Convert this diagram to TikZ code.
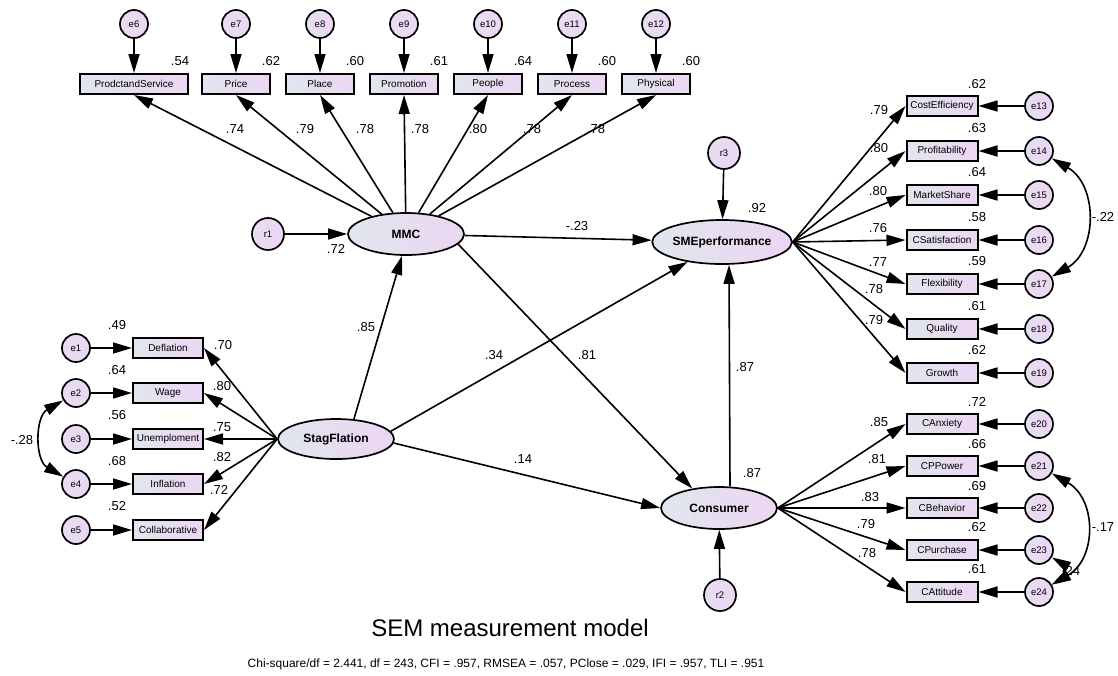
\documentclass[tikz,border=0pt]{standalone}
\usepackage{fontspec}
\setmainfont{Liberation Sans}
\usetikzlibrary{shapes.geometric,arrows.meta}
\definecolor{gL}{RGB}{224,230,237}
\definecolor{gR}{RGB}{236,214,243}
\definecolor{cL}{RGB}{230,222,240}
\begin{document}
\begin{tikzpicture}[x=1pt,y=-1pt,
  obs/.style={draw, line width=2pt, rectangle, minimum width=68pt, minimum height=20pt, inner sep=0pt, left color=gL, right color=gR, font=\fontsize{10}{11}\selectfont},
  err/.style={draw, circle, line width=1.7pt, minimum size=28pt, inner sep=0pt, left color=cL, right color=gR, font=\fontsize{9.5}{10}\selectfont},
  res/.style={err, minimum size=32pt},
  lat/.style={draw, ellipse, line width=1.7pt, minimum width=116pt, minimum height=42pt, inner sep=0pt, left color=gL, right color=gR, font=\bfseries\fontsize{12}{13}\selectfont},
  num/.style={font=\fontsize{13}{15}\selectfont, inner sep=0pt},
  arr/.style={-{Triangle[length=19pt,width=11pt]}, line width=1.6pt},
  cov/.style={{Triangle[length=19pt,width=11pt]}-{Triangle[length=19pt,width=11pt]}, line width=1.6pt},
]
\useasboundingbox (0,0) rectangle (1118,675);

% latent variables
\node[lat] (mmc) at (406,234) {MMC};
\node[lat, minimum width=114pt, minimum height=44pt] (sme) at (722,242) {SMEperformance};
\node[lat] (cons) at (719,508) {Consumer};
\node[lat, minimum height=40pt] (stag) at (336,439) {StagFlation};

% residuals
\node[res] (r1) at (268,234) {r1};
\node[res] (r3) at (724,153) {r3};
\node[res] (r2) at (720,595) {r2};
\draw[arr] (r1) -- (mmc);
\draw[arr] (r3) -- (sme);
\draw[arr] (r2) -- (cons);

% top indicators
\node[obs, minimum width=108pt] (t1) at (134,84) {ProdctandService};
\node[obs] (t2) at (236,84) {Price};
\node[obs] (t3) at (320,84) {Place};
\node[obs] (t4) at (404,84) {Promotion};
\node[obs] (t5) at (488,84) {People};
\node[obs] (t6) at (572,84) {Process};
\node[obs] (t7) at (656,84) {Physical};
\node[err] (e6) at (134,24) {e6};
\node[err] (e7) at (236,24) {e7};
\node[err] (e8) at (320,24) {e8};
\node[err] (e9) at (404,24) {e9};
\node[err] (e10) at (488,24) {e10};
\node[err] (e11) at (572,24) {e11};
\node[err] (e12) at (656,24) {e12};
\foreach \e/\t in {e6/t1,e7/t2,e8/t3,e9/t4,e10/t5,e11/t6,e12/t7}{\draw[arr] (\e) -- (\t);}
\foreach \t in {t1,t2,t3,t4,t5,t6,t7}{\draw[arr] (mmc) -- (\t.south);}
\node[num] at (180,61) {.54};
\node[num] at (271,61) {.62};
\node[num] at (355,61) {.60};
\node[num] at (439,61) {.61};
\node[num] at (523,61) {.64};
\node[num] at (607,61) {.60};
\node[num] at (691,61) {.60};
\node[num] at (235,129) {.74};
\node[num] at (305,129) {.79};
\node[num] at (365,129) {.78};
\node[num] at (420,129) {.78};
\node[num] at (478,129) {.80};
\node[num] at (532,129) {.78};
\node[num] at (596,129) {.78};
\node[num] at (336,249) {.72};

% left indicators
\node[obs, minimum width=70pt] (l1) at (168,348) {Deflation};
\node[obs, minimum width=70pt] (l2) at (168,393) {Wage};
\node[obs, minimum width=70pt] (l3) at (168,439) {Unemploment};
\node[obs, minimum width=70pt] (l4) at (168,484) {Inflation};
\node[obs, minimum width=70pt] (l5) at (168,530) {Collaborative};
\node[err] (e1) at (76,348) {e1};
\node[err] (e2) at (76,393) {e2};
\node[err] (e3) at (76,439) {e3};
\node[err] (e4) at (76,484) {e4};
\node[err] (e5) at (76,530) {e5};
\foreach \e/\l in {e1/l1,e2/l2,e3/l3,e4/l4,e5/l5}{\draw[arr] (\e) -- (\l); \draw[arr] (stag.west) -- (\l.east);}
\node[num] at (117,325) {.49};
\node[num] at (117,370) {.64};
\node[num] at (117,415) {.56};
\node[num] at (117,461) {.68};
\node[num] at (117,506) {.52};
\node[num] at (223,345) {.70};
\node[num] at (222,386) {.80};
\node[num] at (222,427) {.75};
\node[num] at (222,457) {.82};
\node[num] at (219,490) {.72};
\draw[cov] (e2) to[bend right=60, looseness=1.1] (e4);
\node[num] at (22,440) {-.28};

% right indicators (SMEperformance)
\node[obs, minimum width=71pt] (s1) at (942,106) {CostEfficiency};
\node[obs, minimum width=71pt] (s2) at (942,151) {Profitability};
\node[obs, minimum width=71pt] (s3) at (942,195) {MarketShare};
\node[obs, minimum width=71pt] (s4) at (942,240) {CSatisfaction};
\node[obs, minimum width=71pt] (s5) at (942,284) {Flexibility};
\node[obs, minimum width=71pt] (s6) at (942,329) {Quality};
\node[obs, minimum width=71pt] (s7) at (942,373) {Growth};
\node[err] (e13) at (1039,106) {e13};
\node[err] (e14) at (1039,151) {e14};
\node[err] (e15) at (1039,195) {e15};
\node[err] (e16) at (1039,240) {e16};
\node[err] (e17) at (1039,284) {e17};
\node[err] (e18) at (1039,329) {e18};
\node[err] (e19) at (1039,373) {e19};
\foreach \e/\s in {e13/s1,e14/s2,e15/s3,e16/s4,e17/s5,e18/s6,e19/s7}{\draw[arr] (\e) -- (\s); \draw[arr] (sme.east) -- (\s.west);}
\node[num] at (977,84) {.62};
\node[num] at (977,128) {.63};
\node[num] at (977,172) {.64};
\node[num] at (977,217) {.58};
\node[num] at (977,261) {.59};
\node[num] at (977,306) {.61};
\node[num] at (977,350) {.62};
\node[num] at (879,110) {.79};
\node[num] at (879,148) {.80};
\node[num] at (878,191) {.80};
\node[num] at (878,228) {.76};
\node[num] at (878,262) {.77};
\node[num] at (874,289) {.78};
\node[num] at (874,320) {.79};
\draw[cov] (e14) to[bend left=60, looseness=1.15] (e17);
\node[num] at (1103,217) {-.22};

% right indicators (Consumer)
\node[obs, minimum width=71pt] (c1) at (942,424) {CAnxiety};
\node[obs, minimum width=71pt] (c2) at (942,466) {CPPower};
\node[obs, minimum width=71pt] (c3) at (942,508) {CBehavior};
\node[obs, minimum width=71pt] (c4) at (942,550) {CPurchase};
\node[obs, minimum width=71pt] (c5) at (942,592) {CAttitude};
\node[err] (e20) at (1039,424) {e20};
\node[err] (e21) at (1039,466) {e21};
\node[err] (e22) at (1039,508) {e22};
\node[err] (e23) at (1039,550) {e23};
\node[err] (e24) at (1039,592) {e24};
\foreach \e/\c in {e20/c1,e21/c2,e22/c3,e23/c4,e24/c5}{\draw[arr] (\e) -- (\c); \draw[arr] (cons.east) -- (\c.west);}
\node[num] at (977,402) {.72};
\node[num] at (977,444) {.66};
\node[num] at (977,486) {.69};
\node[num] at (977,527) {.62};
\node[num] at (977,569) {.61};
\node[num] at (879,422) {.85};
\node[num] at (877,459) {.81};
\node[num] at (870,497) {.83};
\node[num] at (866,524) {.79};
\node[num] at (867,553) {.78};
\draw[cov] (e21) to[bend left=60, looseness=1.2] (e24);
\node[num] at (1103,527) {-.17};
\node[num] at (1071,571) {.24};
\draw[cov] (e23) to[bend left=60, looseness=1.1] (e24);

% structural paths
\draw[arr] (mmc) -- (sme);
\draw[arr] (stag.48) -- ([xshift=-4pt]mmc.south);
\draw[arr] (stag.8) -- (sme.210);
\draw[arr] (mmc.-11) -- (cons.144);
\draw[arr] (stag.-4) -- (cons.west);
\draw[arr] ([xshift=11pt]cons.north) -- ([xshift=7pt]sme.south);
\node[num] at (577,226) {-.23};
\node[num] at (366,327) {.85};
\node[num] at (494,355) {.34};
\node[num] at (587,355) {.81};
\node[num] at (523,459) {.14};
\node[num] at (745,367) {.87};
\node[num] at (752,473) {.87};
\node[num] at (757,208) {.92};

% captions
\node[font=\fontsize{24}{28}\selectfont, inner sep=0pt] (title) at (510,628) {SEM measurement model};
\node[font=\fontsize{12}{14}\selectfont, inner sep=0pt] (fit) at (506,664) {Chi-square/df = 2.441, df = 243, CFI = .957, RMSEA = .057, PClose = .029, IFI = .957, TLI = .951};
\end{tikzpicture}
\end{document}
